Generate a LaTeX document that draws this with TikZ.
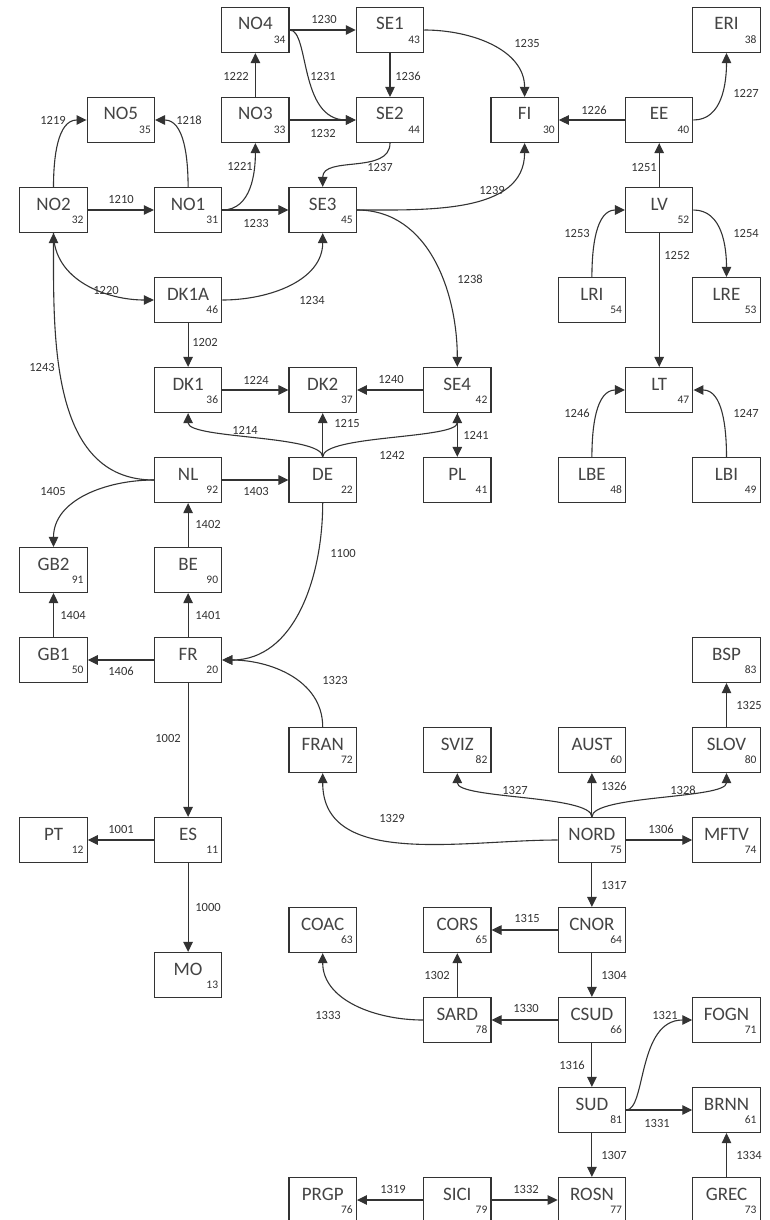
\documentclass[tikz,border=0pt]{standalone}
\usepackage{fontspec}
\setmainfont{Carlito}
\usetikzlibrary{arrows.meta}
\definecolor{linec}{HTML}{333333}
\definecolor{namec}{HTML}{444444}
\tikzset{
 box/.style={draw=linec, line width=1.2pt, minimum width=67.3pt, minimum height=45pt, inner sep=0pt, fill=white},
 nm/.style={anchor=base, inner sep=0pt, text=namec, font=\fontsize{19}{19}\selectfont},
 num/.style={anchor=base east, inner sep=0pt, text=linec, font=\fontsize{11.5}{11.5}\selectfont},
 lbl/.style={inner sep=0pt, text=linec, font=\fontsize{12.5}{12.5}\selectfont},
 ar/.style={draw=linec, line width=1.1pt, -{Triangle[length=10pt,width=9.5pt]}},
}
\newcommand\cty[4]{\node[box] (#1) at ({53.5+67.3*#2},{-30-45*#3}) {};
 \node[nm] (#1-n) at (#1.center) {#1};
 \node[num] (#1-d) at ([xshift=-4pt,yshift=10pt]#1.south east) {#4};}
\newcommand\lb[3]{\node[lbl] (L#1) at (#2,-#3) {#1};}
\begin{document}
\begin{tikzpicture}[x=1pt,y=1pt]
\useasboundingbox (0,0) rectangle (769,-1220);
\cty{NO4}{3}{0}{34}
\cty{SE1}{5}{0}{43}
\cty{ERI}{10}{0}{38}
\cty{NO5}{1}{2}{35}
\cty{NO3}{3}{2}{33}
\cty{SE2}{5}{2}{44}
\cty{FI}{7}{2}{30}
\cty{EE}{9}{2}{40}
\cty{NO2}{0}{4}{32}
\cty{NO1}{2}{4}{31}
\cty{SE3}{4}{4}{45}
\cty{LV}{9}{4}{52}
\cty{DK1A}{2}{6}{46}
\cty{LRI}{8}{6}{54}
\cty{LRE}{10}{6}{53}
\cty{DK1}{2}{8}{36}
\cty{DK2}{4}{8}{37}
\cty{SE4}{6}{8}{42}
\cty{LT}{9}{8}{47}
\cty{NL}{2}{10}{92}
\cty{DE}{4}{10}{22}
\cty{PL}{6}{10}{41}
\cty{LBE}{8}{10}{48}
\cty{LBI}{10}{10}{49}
\cty{GB2}{0}{12}{91}
\cty{BE}{2}{12}{90}
\cty{GB1}{0}{14}{50}
\cty{FR}{2}{14}{20}
\cty{BSP}{10}{14}{83}
\cty{FRAN}{4}{16}{72}
\cty{SVIZ}{6}{16}{82}
\cty{AUST}{8}{16}{60}
\cty{SLOV}{10}{16}{80}
\cty{PT}{0}{18}{12}
\cty{ES}{2}{18}{11}
\cty{NORD}{8}{18}{75}
\cty{MFTV}{10}{18}{74}
\cty{COAC}{4}{20}{63}
\cty{CORS}{6}{20}{65}
\cty{CNOR}{8}{20}{64}
\cty{MO}{2}{21}{13}
\cty{SARD}{6}{22}{78}
\cty{CSUD}{8}{22}{66}
\cty{FOGN}{10}{22}{71}
\cty{SUD}{8}{24}{81}
\cty{BRNN}{10}{24}{61}
\cty{PRGP}{4}{26}{76}
\cty{SICI}{6}{26}{79}
\cty{ROSN}{8}{26}{77}
\cty{GREC}{10}{26}{73}
% edges
\draw[ar] (NO4.east) -- (SE1.west);
\draw[ar] (NO4.east) .. controls +(20,0) and +(-57,0) .. (SE2.west);
\draw[ar] (NO3.north) -- (NO4.south);
\draw[ar] (NO3.east) -- (SE2.west);
\draw[ar] (SE1.south) -- (SE2.north);
\draw[ar] (SE1.east) to[out=0,in=90] (FI.north);
\draw[ar] (SE2.south) to[out=-90,in=90] (SE3.north);
\draw[ar] (NO1.east) -- (SE3.west);
\draw[ar] (NO1.east) to[out=0,in=-90] (NO3.south);
\draw[ar] (NO2.east) -- (NO1.west);
\draw[ar] (NO2.north) to[out=90,in=180] (NO5.west);
\draw[ar] (NO1.north) to[out=90,in=0] (NO5.east);
\draw[ar] (SE3.east) to[out=0,in=-90] (FI.south);
\draw[ar] (SE3.east) to[out=0,in=90] (SE4.north);
\draw[ar] (EE.west) -- (FI.east);
\draw[ar] (EE.east) to[out=0,in=-90] (ERI.south);
\draw[ar] (LV.north) -- (EE.south);
\draw[ar] (LRI.north) to[out=90,in=180] (LV.west);
\draw[ar] (LV.east) to[out=0,in=90] (LRE.north);
\draw[ar] (LV.south) -- (LT.north);
\draw[ar] (LBE.north) to[out=90,in=180] (LT.west);
\draw[ar] (LBI.north) to[out=90,in=0] (LT.east);
\draw[ar] (NO2.south) to[out=-90,in=180] (DK1A.west);
\draw[ar] (DK1A.east) to[out=0,in=-90] (SE3.south);
\draw[ar] (DK1A.south) -- (DK1.north);
\draw[ar] (DK1.east) -- (DK2.west);
\draw[ar] (SE4.west) -- (DK2.east);
\draw[ar] (DE.north) .. controls +(0,22) and +(0,-26) .. (DK1.south);
\draw[ar] (DE.north) -- (DK2.south);
\draw[ar] (DE.north) .. controls +(0,22) and +(0,-26) .. (SE4.south);
\draw[ar] (SE4.south) -- (PL.north);
\draw[ar] (NL.west) to[out=180,in=-90] (NO2.south);
\draw[ar] (NL.west) to[out=180,in=90] (GB2.north);
\draw[ar] (NL.east) -- (DE.west);
\draw[ar] (BE.north) -- (NL.south);
\draw[ar] (FR.north) -- (BE.south);
\draw[ar] (GB1.north) -- (GB2.south);
\draw[ar] (FR.west) -- (GB1.east);
\draw[ar] (DE.south) to[out=-90,in=0] (FR.east);
\draw[ar] (FRAN.north) to[out=90,in=0] (FR.east);
\draw[ar] (FR.south) -- (ES.north);
\draw[ar] (ES.west) -- (PT.east);
\draw[ar] (ES.south) -- (MO.north);
\draw[ar] (NORD.west) to[out=180,in=-90] (FRAN.south);
\draw[ar] (NORD.north) .. controls +(0,22) and +(0,-26) .. (SVIZ.south);
\draw[ar] (NORD.north) -- (AUST.south);
\draw[ar] (NORD.north) .. controls +(0,22) and +(0,-26) .. (SLOV.south);
\draw[ar] (SLOV.north) -- (BSP.south);
\draw[ar] (NORD.east) -- (MFTV.west);
\draw[ar] (NORD.south) -- (CNOR.north);
\draw[ar] (CNOR.west) -- (CORS.east);
\draw[ar] (CNOR.south) -- (CSUD.north);
\draw[ar] (SARD.north) -- (CORS.south);
\draw[ar] (CSUD.west) -- (SARD.east);
\draw[ar] (SARD.west) to[out=180,in=-90] (COAC.south);
\draw[ar] (CSUD.south) -- (SUD.north);
\draw[ar] (SUD.east) .. controls +(20,0) and +(-55,0) .. (FOGN.west);
\draw[ar] (SUD.east) -- (BRNN.west);
\draw[ar] (SUD.south) -- (ROSN.north);
\draw[ar] (GREC.north) -- (BRNN.south);
\draw[ar] (SICI.west) -- (PRGP.east);
\draw[ar] (SICI.east) -- (ROSN.west);
% labels
\lb{1230}{324}{19}
\lb{1231}{323}{76}
\lb{1222}{236}{76}
\lb{1232}{323}{133}
\lb{1236}{408}{76}
\lb{1235}{527}{43}
\lb{1237}{380}{167}
\lb{1233}{256}{223}
\lb{1221}{240}{166}
\lb{1210}{121}{199}
\lb{1219}{53}{120}
\lb{1218}{189}{120}
\lb{1239}{492}{190}
\lb{1238}{470}{279}
\lb{1226}{594}{110}
\lb{1227}{746}{93}
\lb{1251}{644}{167}
\lb{1253}{577}{233}
\lb{1254}{746}{233}
\lb{1252}{677}{255}
\lb{1220}{106}{290}
\lb{1234}{312}{300}
\lb{1202}{205}{342}
\lb{1224}{256}{380}
\lb{1240}{391}{379}
\lb{1214}{245}{430}
\lb{1215}{347}{423}
\lb{1242}{392}{455}
\lb{1241}{476}{435}
\lb{1246}{577}{413}
\lb{1247}{746}{413}
\lb{1243}{42}{367}
\lb{1405}{53}{491}
\lb{1403}{256}{491}
\lb{1402}{208}{524}
\lb{1401}{208}{615}
\lb{1404}{73}{615}
\lb{1406}{121}{671}
\lb{1100}{343}{553}
\lb{1323}{335}{680}
\lb{1002}{168}{738}
\lb{1001}{121}{829}
\lb{1000}{208}{907}
\lb{1329}{392}{818}
\lb{1327}{515}{790}
\lb{1326}{614}{786}
\lb{1328}{683}{790}
\lb{1325}{749}{705}
\lb{1306}{661}{829}
\lb{1317}{614}{885}
\lb{1315}{527}{918}
\lb{1304}{614}{975}
\lb{1302}{437}{975}
\lb{1330}{526}{1008}
\lb{1333}{328}{1015}
\lb{1316}{572}{1065}
\lb{1321}{665}{1015}
\lb{1331}{657}{1123}
\lb{1307}{614}{1155}
\lb{1334}{749}{1155}
\lb{1319}{393}{1189}
\lb{1332}{526}{1189}
\end{tikzpicture}
\end{document}
